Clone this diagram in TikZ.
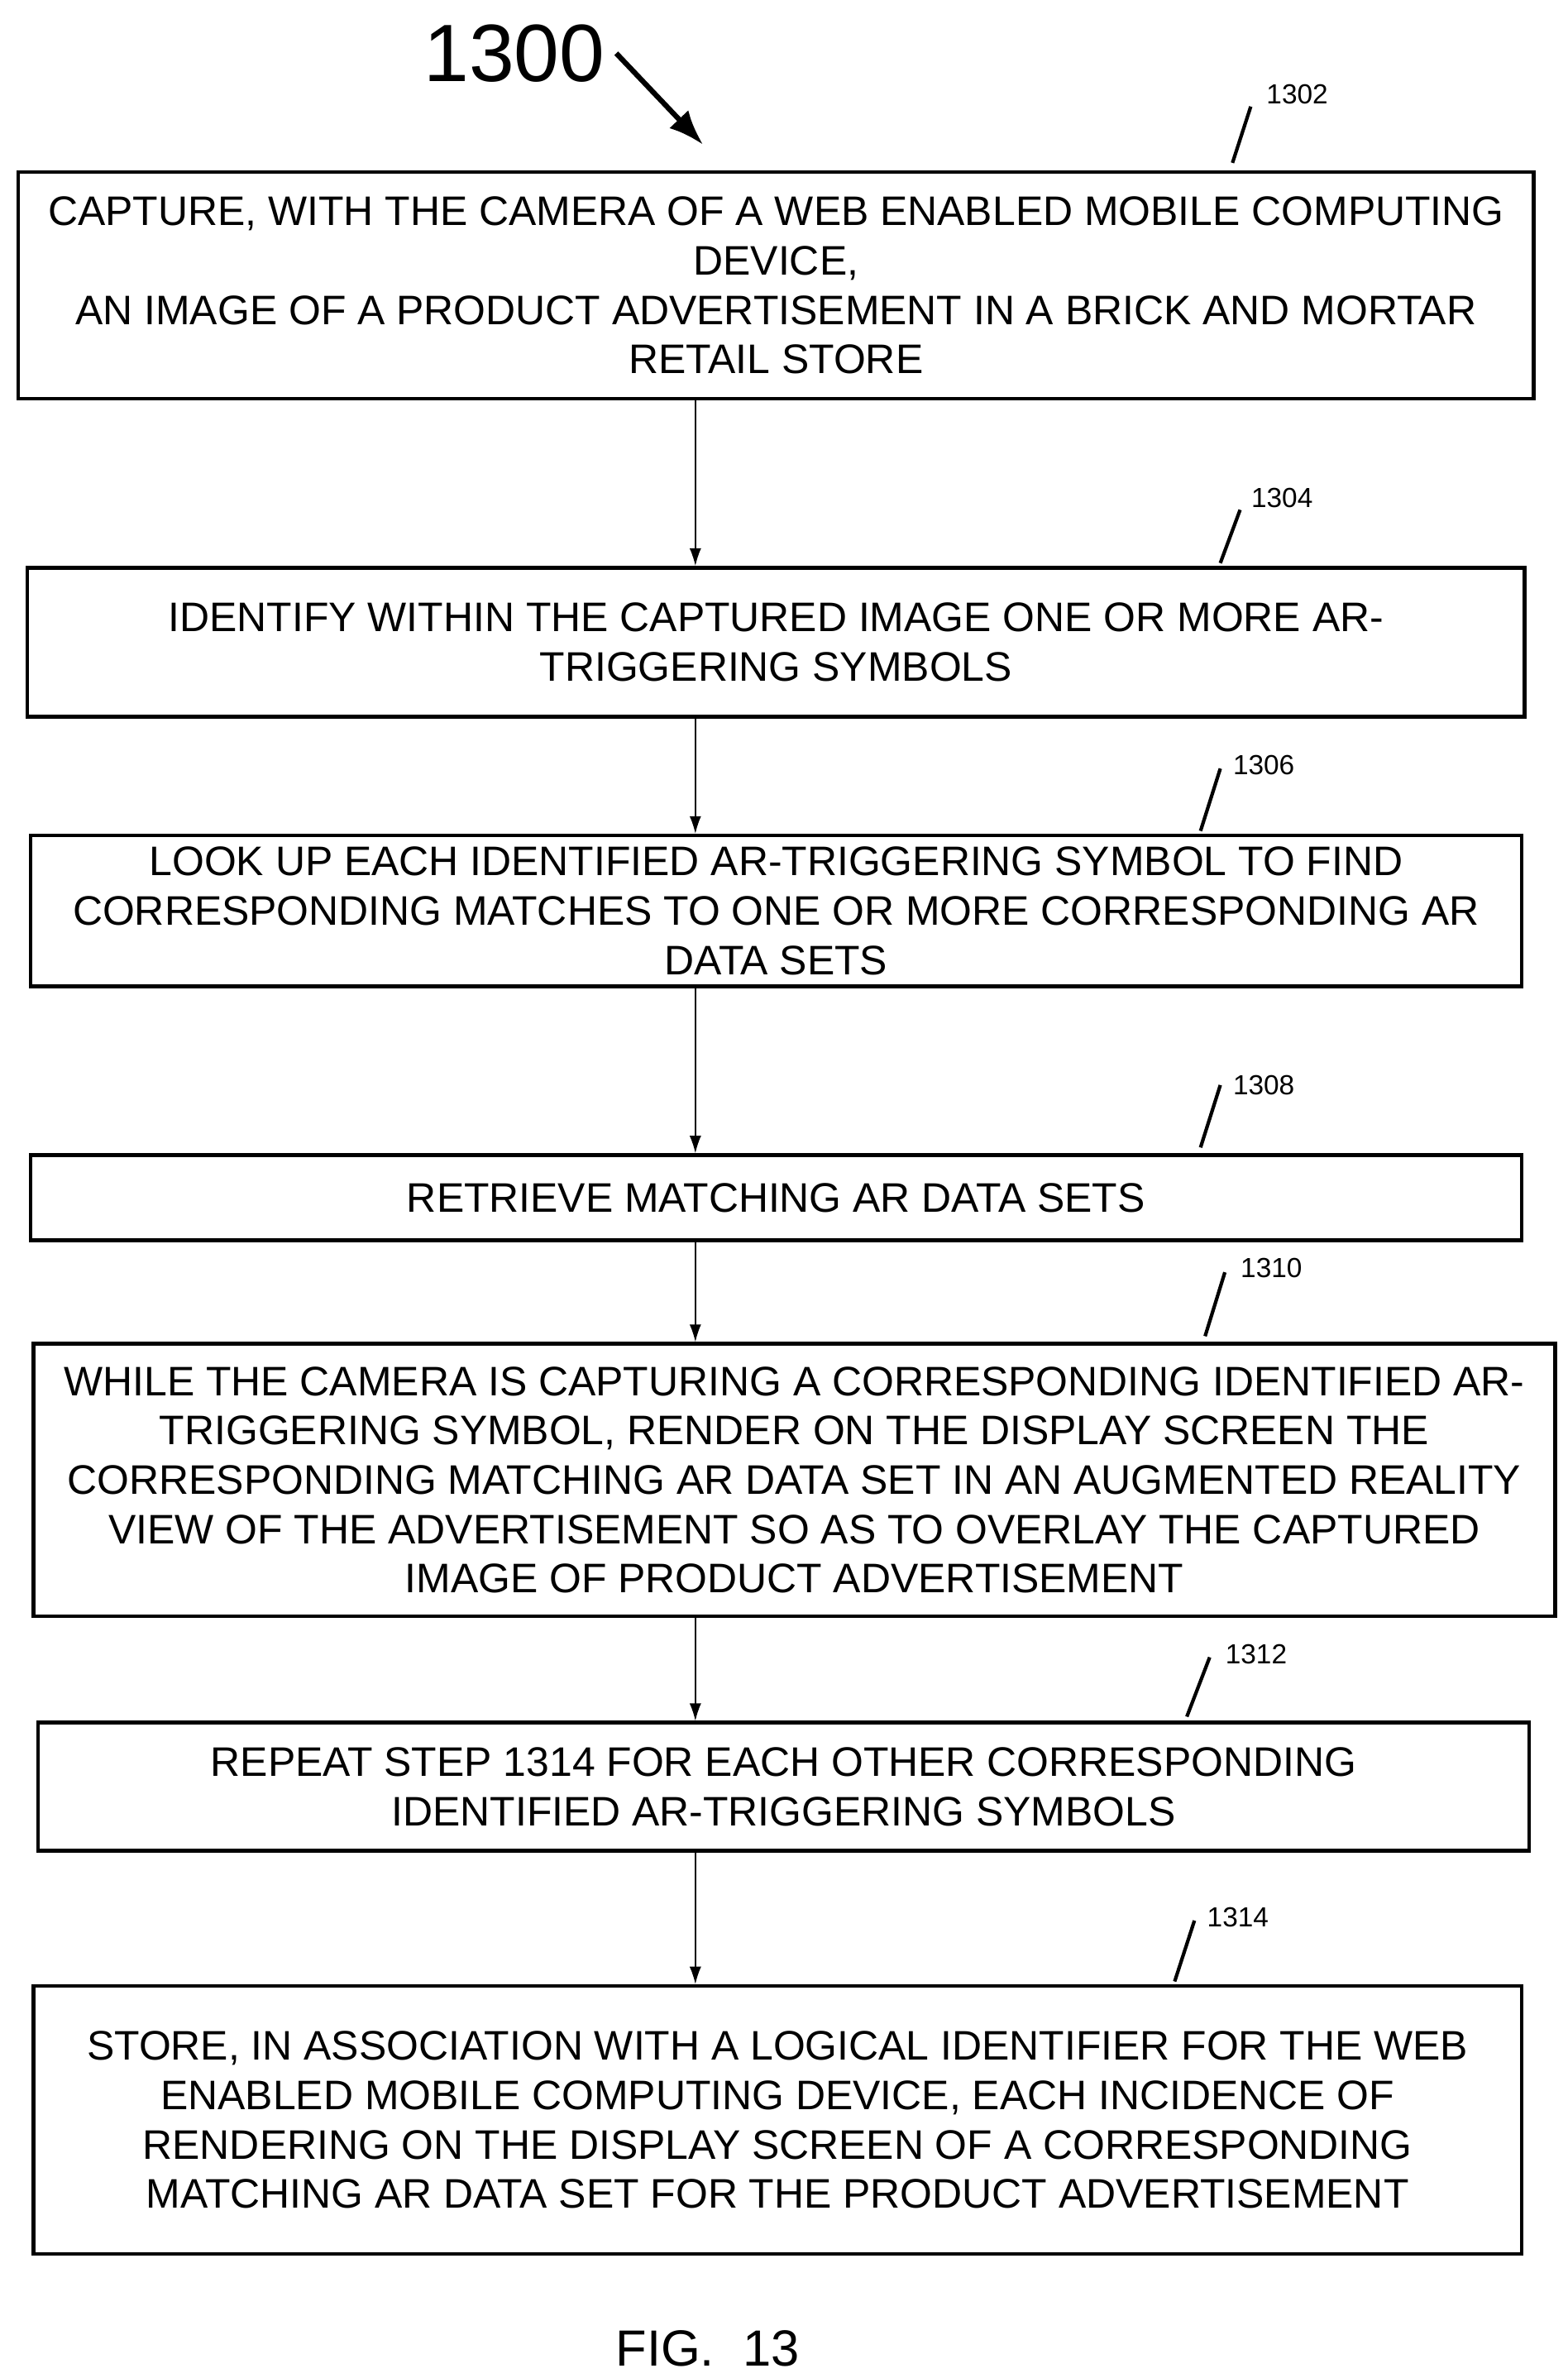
\documentclass[tikz,border=0pt]{standalone}
\usepackage{fontspec}
\setmainfont{Liberation Sans}
\begin{document}
\begin{tikzpicture}[x=0.0184cm,y=-0.0184cm,
 box/.style={draw,line width=1.3pt,inner sep=0pt,align=center,font=\fontsize{14.2}{17}\selectfont},
 arr/.style={-{Latex[length=6pt,width=4pt]},line width=0.4pt},
 lbl/.style={font=\fontsize{9.5}{11}\selectfont,anchor=west,inner sep=0},
 lead/.style={line width=1.2pt}]
\useasboundingbox (0,0) rectangle (1030,1562.6);
\usetikzlibrary{arrows.meta}
\def\bx#1#2#3#4#5#6{\node[box,minimum width={(#3-#2)*0.0184cm},minimum height={(#5-#4)*0.0184cm}] (#1) at ({(#2+#3)/2},{(#4+#5)/2}) {#6};}
\bx{b1}{12}{1008}{113}{262}{CAPTURE, WITH THE CAMERA OF A WEB ENABLED MOBILE COMPUTING\\DEVICE,\\AN IMAGE OF A PRODUCT ADVERTISEMENT IN A BRICK AND MORTAR\\RETAIL STORE}
\bx{b2}{18}{1002}{373}{471}{IDENTIFY WITHIN THE CAPTURED IMAGE ONE OR MORE AR-\\TRIGGERING SYMBOLS}
\bx{b3}{20}{1000}{549}{648}{LOOK UP EACH IDENTIFIED AR-TRIGGERING SYMBOL TO FIND\\CORRESPONDING MATCHES TO ONE OR MORE CORRESPONDING AR\\DATA SETS}
\bx{b4}{20}{1000}{759}{815}{RETRIEVE MATCHING AR DATA SETS}
\bx{b5}{22}{1022}{883}{1062}{WHILE THE CAMERA IS CAPTURING A CORRESPONDING IDENTIFIED AR-\\TRIGGERING SYMBOL, RENDER ON THE DISPLAY SCREEN THE\\CORRESPONDING MATCHING AR DATA SET IN AN AUGMENTED REALITY\\VIEW OF THE ADVERTISEMENT SO AS TO OVERLAY THE CAPTURED\\IMAGE OF PRODUCT ADVERTISEMENT}
\bx{b6}{25}{1005}{1132}{1216}{REPEAT STEP 1314 FOR EACH OTHER CORRESPONDING\\IDENTIFIED AR-TRIGGERING SYMBOLS}
\bx{b7}{22}{1000}{1305}{1481}{STORE, IN ASSOCIATION WITH A LOGICAL IDENTIFIER FOR THE WEB\\ENABLED MOBILE COMPUTING DEVICE, EACH INCIDENCE OF\\RENDERING ON THE DISPLAY SCREEN OF A CORRESPONDING\\MATCHING AR DATA SET FOR THE PRODUCT ADVERTISEMENT}
\foreach \a/\b in {b1/b2,b2/b3,b3/b4,b4/b5,b5/b6,b6/b7}
  \draw[arr] (\a.south -| 457,0) -- (\b.north -| 457,0);
\node[lbl] (l1) at (832,62) {1302}; \coordinate (c1) at (822,70); \coordinate (d1) at (810,107); \draw[lead] (c1)--(d1);
\node[lbl] (l2) at (822,327) {1304}; \coordinate (c2) at (815,335); \coordinate (d2) at (802,370); \draw[lead] (c2)--(d2);
\node[lbl] (l3) at (810,503) {1306}; \coordinate (c3) at (802,505); \coordinate (d3) at (789,546); \draw[lead] (c3)--(d3);
\node[lbl] (l4) at (810,713) {1308}; \coordinate (c4) at (802,713); \coordinate (d4) at (789,754); \draw[lead] (c4)--(d4);
\node[lbl] (l5) at (815,833) {1310}; \coordinate (c5) at (805,836); \coordinate (d5) at (792,878); \draw[lead] (c5)--(d5);
\node[lbl] (l6) at (805,1087) {1312}; \coordinate (c6) at (795,1089); \coordinate (d6) at (780,1128); \draw[lead] (c6)--(d6);
\node[lbl] (l7) at (793,1260) {1314}; \coordinate (c7) at (785,1262); \coordinate (d7) at (772,1302); \draw[lead] (c7)--(d7);
\node[font=\fontsize{28}{30}\selectfont] (t) at (338,35) {1300};
\coordinate (ta) at (405,35); \coordinate (tb) at (462,95);
\draw[-{Latex[length=12pt,width=9pt]},line width=1.8pt] (ta)--(tb);
\node[font=\fontsize{17.5}{20}\selectfont] (fig) at (465,1543) {FIG.\ \ 13};
\end{tikzpicture}
\end{document}
